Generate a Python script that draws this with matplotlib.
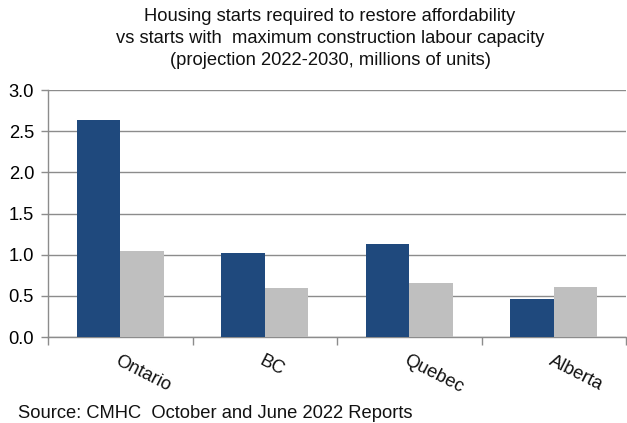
import numpy as np
import matplotlib.pyplot as plt
from matplotlib.transforms import offset_copy

plt.rcParams['font.family'] = ['Liberation Sans', 'DejaVu Sans']

provinces = ['Ontario', 'BC', 'Quebec', 'Alberta']
required_starts = [2.64, 1.02, 1.13, 0.46]
labour_capacity = [1.05, 0.60, 0.65, 0.61]
title_lines = ['Housing starts required to restore affordability',
               'vs starts with  maximum construction labour capacity',
               '(projection 2022-2030, millions of units)']

navy = '#1F497D'
grey = '#BFBFBF'
line_col = '#8C8C8C'
fs = 13.2

fig = plt.figure(figsize=(6.27, 4.23), dpi=100)
ax = fig.add_axes([48 / 627, 86 / 423, 578 / 627, 247 / 423])

x = np.arange(len(provinces))
w = 0.3
ax.bar(x - w / 2, required_starts, w, color=navy, zorder=3)
ax.bar(x + w / 2, labour_capacity, w, color=grey, zorder=3)

ax.set_xlim(-0.5, len(provinces) - 0.5)
ax.set_ylim(0, 3.0)
ax.set_yticks(np.arange(0, 3.01, 0.5))
ax.set_yticklabels([f'{v:.1f}' for v in np.arange(0, 3.01, 0.5)], fontsize=fs)
ax.yaxis.grid(True, color=line_col, linewidth=1, zorder=0)

# category separators on the x axis
ax.set_xticks(np.arange(-0.5, len(provinces), 1.0))
ax.set_xticklabels([])
ax.tick_params(axis='x', length=6, color=line_col, width=1)
ax.tick_params(axis='y', length=5, color=line_col, width=1, pad=5)

for side in ['top', 'right']:
    ax.spines[side].set_visible(False)
for side in ['left', 'bottom']:
    ax.spines[side].set_color(line_col)
    ax.spines[side].set_linewidth(1)

# slanted province names
label_trans = offset_copy(ax.get_xaxis_transform(), fig=fig, x=0, y=-15, units='dots')
for i, name in enumerate(provinces):
    ax.text(i, 0, name, transform=label_trans, rotation=-27, rotation_mode='anchor',
            ha='left', va='top', fontsize=fs, color='#111111')

# three-line title, one baseline per line
for k, line in enumerate(title_lines):
    fig.text(330 / 627, 1 - (21 + 22 * k) / 423, line,
             ha='center', va='baseline', fontsize=fs, color='#111111')

fig.text(18 / 627, 1 - 418 / 423, 'Source: CMHC  October and June 2022 Reports',
         ha='left', va='baseline', fontsize=fs, color='#111111')

fig.savefig('out.png', dpi=100)
